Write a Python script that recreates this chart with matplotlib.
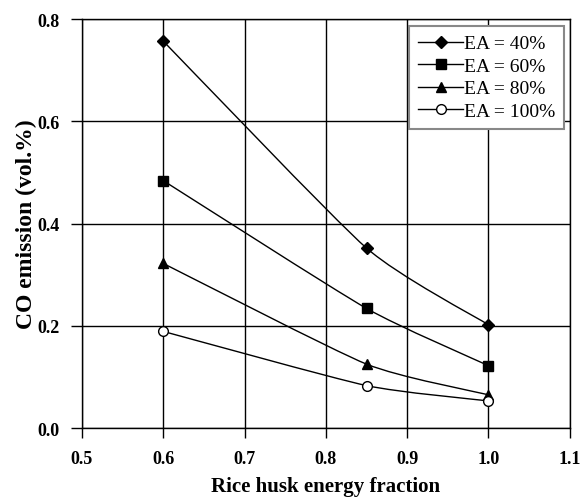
import numpy as np
import matplotlib
matplotlib.use('Agg')
import matplotlib.pyplot as plt
from matplotlib.path import Path
from matplotlib.patches import PathPatch

plt.rcParams['font.family'] = ['Liberation Serif', 'DejaVu Serif']

x = [0.6, 0.85, 1.0]
ea40 = [0.757, 0.352, 0.202]
ea60 = [0.484, 0.234, 0.122]
ea80 = [0.322, 0.125, 0.065]
ea100 = [0.189, 0.083, 0.053]
labels = ['EA = 40%', 'EA = 60%', 'EA = 80%', 'EA = 100%']
markers = ['D', 's', '^', 'o']
sizes = [6, 7, 7, 7]


def smooth_path(xs, ys, k=10.0):
    # smoothed line like a spreadsheet chart (cubic bezier through the points)
    p = np.column_stack([xs, ys])
    pts = np.vstack([p[0], p, p[-1]])
    verts = [p[0]]
    codes = [Path.MOVETO]
    for i in range(1, len(pts) - 2):
        c1 = pts[i] + (pts[i + 1] - pts[i - 1]) / k
        c2 = pts[i + 1] - (pts[i + 2] - pts[i]) / k
        verts += [c1, c2, pts[i + 1]]
        codes += [Path.CURVE4] * 3
    return Path(verts, codes)


fig = plt.figure(figsize=(5.85, 5.02), dpi=100)
ax = fig.add_axes([0.140, 0.1454, 0.834, 0.8146])

for ys, lab, m, ms in zip([ea40, ea60, ea80, ea100], labels, markers, sizes):
    ax.add_patch(PathPatch(smooth_path(x, ys), fill=False, lw=1, ec='black', zorder=3))
    fc = 'white' if m == 'o' else 'black'
    ax.plot(x, ys, ls='none', marker=m, ms=ms, mfc=fc, mec='black', mew=1, zorder=4)
    ax.plot([], [], color='black', lw=1, marker=m, ms=ms, mfc=fc, mec='black', label=lab)

ax.set_xlim(0.5, 1.1)
ax.set_ylim(0, 0.8)
ax.set_xticks(np.arange(0.5, 1.11, 0.1))
ax.set_yticks(np.arange(0, 0.81, 0.2))
ax.set_xticklabels(['0.5', '0.6', '0.7', '0.8', '0.9', '1.0', '1.1'], fontsize=13, fontweight='bold')
ax.set_yticklabels(['0.0', '0.2', '0.4', '0.6', '0.8'], fontsize=13, fontweight='bold')
ax.grid(True, color='black', lw=1)
ax.set_axisbelow(True)
ax.tick_params(axis='x', direction='out', length=7, width=1, pad=9)
ax.tick_params(axis='y', direction='out', length=8, width=1, pad=8)
for s in ax.spines.values():
    s.set_linewidth(1)

ax.set_xlabel('Rice husk energy fraction', fontsize=15, fontweight='bold')
ax.set_ylabel('CO emission (vol.%)', fontsize=17, fontweight='bold')
ax.xaxis.set_label_coords(0.5, -0.118)
ax.yaxis.set_label_coords(-0.092, 0.5)

leg = ax.legend(loc='upper right', bbox_to_anchor=(0.988, 0.983), borderaxespad=0,
                fontsize=14, frameon=True, fancybox=False, handlelength=2.3,
                handletextpad=0.05, labelspacing=0.25, borderpad=0.45, framealpha=1)
leg.get_frame().set_edgecolor('#888888')
leg.get_frame().set_linewidth(1.5)

fig.savefig('out.png', dpi=100)
